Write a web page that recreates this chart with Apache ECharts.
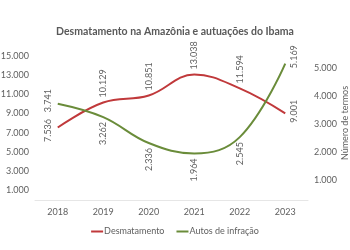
<!DOCTYPE html>
<html>
<head>
<meta charset="utf-8">
<script src="https://cdn.jsdelivr.net/npm/echarts@6/dist/echarts.min.js"></script>
<style>
  html, body { margin: 0; padding: 0; background: #fff; }
  #chart { width: 350px; height: 250px; }
</style>
</head>
<body>
<div id="chart"></div>
<script>
// dados
const anos = ['2018', '2019', '2020', '2021', '2022', '2023'];
const desmatamento = [7536, 10129, 10851, 13038, 11594, 9001];
const autos = [3741, 3262, 2336, 1964, 2545, 5169];
const ticksEsq = [1000, 3000, 5000, 7000, 9000, 11000, 13000, 15000];
const ticksDir = [1000, 2000, 3000, 4000, 5000];

// deslocamento dos rotulos (rotacionados 90 graus) de cada ponto
const rotDesm = [
  { position: [-5, 3], align: 'center', verticalAlign: 'bottom' },
  { position: [0, -5], align: 'left', verticalAlign: 'middle' },
  { position: [0, -5], align: 'left', verticalAlign: 'middle' },
  { position: [0, -5], align: 'left', verticalAlign: 'middle' },
  { position: [0, -5], align: 'left', verticalAlign: 'middle' },
  { position: [4, -2], align: 'center', verticalAlign: 'top' }
];
const rotAutos = [
  { position: [-5, -3], align: 'center', verticalAlign: 'bottom' },
  { position: [0, 5], align: 'right', verticalAlign: 'middle' },
  { position: [0, 5], align: 'right', verticalAlign: 'middle' },
  { position: [0, 5], align: 'right', verticalAlign: 'middle' },
  { position: [0, 5], align: 'right', verticalAlign: 'middle' },
  { position: [4, -7], align: 'center', verticalAlign: 'top' }
];

const fmt = v => v.toLocaleString('de-DE');

function pontos(vals, rot) {
  return vals.map((v, i) => ({ value: v, label: rot[i] }));
}

const cinza = '#606060';
const fonte = 'Lato';
const myEcharts = echarts.init(document.getElementById('chart'));

myEcharts.setOption({
  animation: false,
  title: {
    text: 'Desmatamento na Amazônia e autuações do Ibama',
    left: 'center',
    top: 21,
    textStyle: { fontSize: 10.5, fontWeight: 'bold', color: '#595959', fontFamily: fonte }
  },
  legend: {
    bottom: 9,
    left: 'center',
    icon: 'rect',
    itemWidth: 12,
    itemHeight: 2,
    itemGap: 12,
    textStyle: { fontSize: 9, color: cinza, fontFamily: fonte, padding: [0, 0, 0, -4] },
    data: ['Desmatamento', 'Autos de infração']
  },
  grid: { left: 35, right: 42, top: 46, bottom: 50, outerBoundsMode: 'none' },
  xAxis: {
    type: 'category',
    data: anos,
    axisLine: { lineStyle: { color: '#e6e6e6' } },
    axisTick: { show: false },
    axisLabel: { color: cinza, fontSize: 9, fontFamily: fonte, margin: 8 }
  },
  yAxis: [
    {
      type: 'value',
      min: 0,
      max: 16000,
      name: 'Área desmatada (km²)',
      nameLocation: 'middle',
      nameGap: 37,
      nameMoveOverlap: false,
      nameTextStyle: { color: '#8c8c8c', fontSize: 9, fontFamily: fonte },
      splitLine: { show: false },
      axisLine: { show: false },
      axisTick: { show: false },
      axisLabel: {
        customValues: ticksEsq,
        formatter: fmt,
        color: cinza, fontSize: 9, fontFamily: fonte, margin: 6
      }
    },
    {
      type: 'value',
      min: 300,
      max: 5800,
      name: 'Número de termos',
      nameLocation: 'middle',
      nameGap: 33,
      nameMoveOverlap: false,
      nameTextStyle: { color: cinza, fontSize: 9, fontFamily: fonte },
      splitLine: { show: false },
      axisLine: { show: false },
      axisTick: { show: false },
      axisLabel: {
        customValues: ticksDir,
        formatter: fmt,
        color: cinza, fontSize: 9, fontFamily: fonte, margin: 6
      }
    }
  ],
  series: [
    {
      name: 'Desmatamento',
      type: 'line',
      yAxisIndex: 0,
      smooth: 0.4,
      symbol: 'circle',
      symbolSize: 0,
      showSymbol: true,
      lineStyle: { color: '#C0393B', width: 2 },
      itemStyle: { color: '#C0393B' },
      label: {
        show: true, rotate: 90, formatter: p => fmt(p.value),
        color: cinza, fontSize: 9, fontFamily: fonte
      },
      data: pontos(desmatamento, rotDesm)
    },
    {
      name: 'Autos de infração',
      type: 'line',
      yAxisIndex: 1,
      smooth: 0.4,
      symbol: 'circle',
      symbolSize: 0,
      showSymbol: true,
      lineStyle: { color: '#6A8C3A', width: 2 },
      itemStyle: { color: '#6A8C3A' },
      label: {
        show: true, rotate: 90, formatter: p => fmt(p.value),
        color: cinza, fontSize: 9, fontFamily: fonte
      },
      data: pontos(autos, rotAutos)
    }
  ]
});
</script>
</body>
</html>
